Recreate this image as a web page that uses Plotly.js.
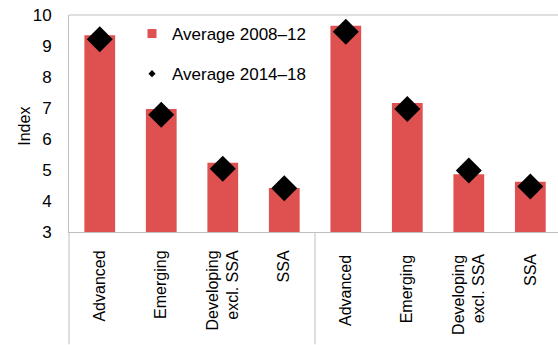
<!DOCTYPE html>
<html>
<head>
<meta charset="utf-8">
<script src="https://cdn.plot.ly/plotly-3.0.1.min.js"></script>
<style>html,body{margin:0;padding:0;background:#fff;}#chart{width:558px;height:345px;}</style>
</head>
<body>
<div id="chart"></div>
<script>
const categories = ["Advanced", "Emerging", "Developing<br>excl. SSA", "SSA",
                    "Advanced ", "Emerging ", "Developing <br>excl. SSA ", "SSA "];
const avg2008_12 = [9.35, 6.97, 5.23, 4.42, 9.65, 7.16, 4.86, 4.62];
const avg2014_18 = [9.22, 6.78, 5.04, 4.41, 9.46, 6.97, 4.98, 4.47];
const seriesNames = ["Average 2008–12", "Average 2014–18"];
const yTicks = [3, 4, 5, 6, 7, 8, 9, 10];

const FONT = "Liberation Sans, Arial, sans-serif";
const RED = "#DF5050";
const GRID = "#BFBFBF";

const traces = [
  {type: "bar", x: categories, y: avg2008_12, name: seriesNames[0], width: 0.5,
   marker: {color: RED, line: {width: 0}}, showlegend: false, hoverinfo: "skip"},
  {type: "scatter", mode: "markers", x: categories, y: avg2014_18, name: seriesNames[1],
   marker: {symbol: "diamond", size: 20, color: "#000"}, showlegend: false, hoverinfo: "skip"},
  {type: "scatter", mode: "markers", x: [null], y: [null], name: seriesNames[0],
   marker: {symbol: "square", size: 9, color: RED}, legendgroup: "a"},
  {type: "scatter", mode: "markers", x: [null], y: [null], name: seriesNames[1],
   marker: {symbol: "diamond", size: 5.5, color: "#000"}, legendgroup: "b"}
];

const bottomPx = 112.5, plotH = 217.5;
const layout = {
  width: 558, height: 345,
  margin: {l: 69, r: 0, t: 15, b: bottomPx, pad: 0},
  paper_bgcolor: "#fff", plot_bgcolor: "#fff",
  font: {family: FONT, size: 16, color: "#000"},
  showlegend: true,
  legend: {x: (132 - 69) / 489, y: 1 - (16 - 15) / plotH, xanchor: "left", yanchor: "top",
           bgcolor: "rgba(0,0,0,0)", font: {family: FONT, size: 17, color: "#000"},
           traceorder: "grouped", tracegroupgap: 15, itemwidth: 30},
  xaxis: {type: "category", range: [-0.5, 7.45], tickangle: -90, showgrid: false,
          showline: true, linecolor: GRID, linewidth: 1, mirror: false, ticks: "",
          tickfont: {family: FONT, size: 16, color: "#000"}, ticklabelstandoff: 11,
          fixedrange: true},
  yaxis: {range: [3, 10], tickvals: yTicks, ticktext: yTicks.map(String), showgrid: false, zeroline: false,
          showline: true, linecolor: GRID, linewidth: 1, ticks: "",
          tickfont: {family: FONT, size: 17, color: "#000"}, ticklabelstandoff: 13,
          fixedrange: true},
  annotations: [
    {text: "Index", xref: "paper", yref: "paper", x: (25 - 69) / 489, y: 1 - (127 - 15) / plotH,
     xanchor: "center", yanchor: "middle", textangle: -90, showarrow: false,
     font: {family: FONT, size: 16, color: "#000"}}
  ],
  shapes: [
    {type: "line", xref: "paper", yref: "paper", x0: 0, x1: 1.01, y0: 1, y1: 1, line: {color: GRID, width: 1}},
    {type: "line", xref: "paper", yref: "paper", x0: 0, x1: 0, y0: 0, y1: -bottomPx / plotH, line: {color: GRID, width: 1}},
    {type: "line", xref: "x", yref: "paper", x0: 3.5, x1: 3.5, y0: 0, y1: -bottomPx / plotH, line: {color: GRID, width: 1}}
  ],
  bargap: 0.5
};

Plotly.newPlot("chart", traces, layout, {staticPlot: true, displayModeBar: false});
</script>
</body>
</html>
